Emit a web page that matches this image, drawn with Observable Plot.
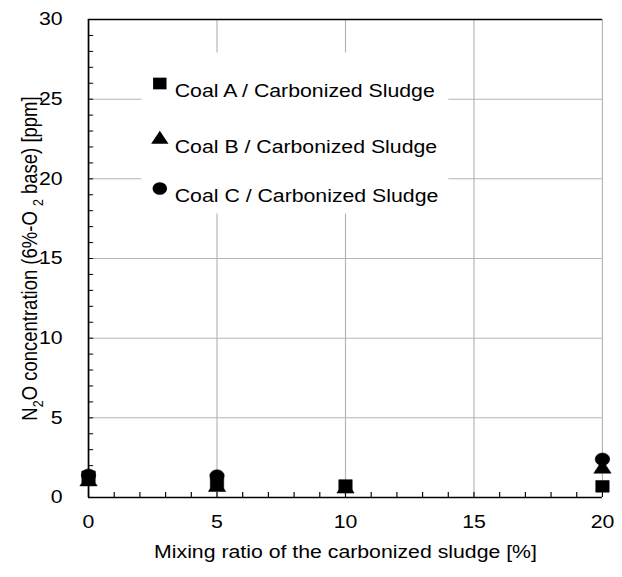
<!DOCTYPE html>
<html><head><meta charset="utf-8">
<script src="https://cdn.jsdelivr.net/npm/d3@7"></script>
<script src="https://cdn.jsdelivr.net/npm/@observablehq/plot@0.6"></script>
<style>
body{margin:0;background:#fff}
svg{font-family: Arial, "Liberation Sans", sans-serif;}
</style>
</head><body><div id="chart"></div>
<script>
// ---- data ----
const seriesNames = ["Coal A / Carbonized Sludge", "Coal B / Carbonized Sludge", "Coal C / Carbonized Sludge"];
const seriesSymbols = ["square", "triangle", "circle"];
const coalA_x = [0, 5, 10, 20];
const coalA_y = [1.3, 0.85, 0.75, 0.7];
const coalB_x = [0, 5, 10, 20];
const coalB_y = [1.0, 0.65, 0.55, 1.8];
const coalC_x = [0, 5, 20];
const coalC_y = [1.4, 1.35, 2.4];
const xTicks = [0, 5, 10, 15, 20];
const yTicks = [0, 5, 10, 15, 20, 25, 30];
const xMinor = d3.range(0, 21, 1);
const yMinor = d3.range(0, 31, 1);
const xLabel = "Mixing ratio of the carbonized sludge [%]";
const yLabel = "N2O concentration (6%-O 2 base) [ppm]";

// the original picture is stretched horizontally; draw at a narrower width and stretch
const OUT_W = 622, OUT_H = 577, SX = 1.15;
const W = Math.round(OUT_W / SX);

const series = [
  {name: seriesNames[0], symbol: seriesSymbols[0], r: 6.6, pts: coalA_x.map((x, i) => ({x, y: coalA_y[i]}))},
  {name: seriesNames[1], symbol: seriesSymbols[1], r: 5.6, pts: coalB_x.map((x, i) => ({x, y: coalB_y[i]}))},
  {name: seriesNames[2], symbol: seriesSymbols[2], r: 6.3, pts: coalC_x.map((x, i) => ({x, y: coalC_y[i]}))}
];
const legendRowsDy = [64, 120, 169];

const gridColor = "#b4b4b4";
const FS = 18.5;
const plot = Plot.plot({
  width: W, height: OUT_H,
  marginLeft: 76.5, marginRight: 17.5, marginTop: 19, marginBottom: 80,
  style: {fontFamily: 'Arial, "Liberation Sans", sans-serif', fontSize: FS + "px", color: "#000", background: "#fff"},
  x: {domain: [0, 20]},
  y: {domain: [0, 30]},
  marks: [
    Plot.gridX(xTicks.filter(d => d > 0), {stroke: gridColor, strokeOpacity: 1, strokeWidth: 1}),
    Plot.gridY(yTicks.filter(d => d > 0), {stroke: gridColor, strokeOpacity: 1, strokeWidth: 1}),
    Plot.frame({fill: "white", stroke: null, insetLeft: 46, insetTop: 33, insetRight: 134, insetBottom: 284}),
    Plot.ruleY([30], {stroke: "black", strokeWidth: 1.6}),
    Plot.ruleY([0], {stroke: "black", strokeWidth: 1.6}),
    Plot.ruleX([0], {stroke: "black", strokeWidth: 1.5}),
    Plot.axisX(xMinor, {tickSize: -5, tickFormat: () => "", label: null, stroke: "black"}),
    Plot.axisY(yMinor, {tickSize: -4.5, tickFormat: () => "", label: null, stroke: "black"}),
    Plot.axisX(xTicks, {tickSize: 0, tickPadding: 17, label: xLabel, labelAnchor: "center", labelOffset: 60, labelArrow: "none"}),
    Plot.axisY(yTicks, {tickSize: 0, tickPadding: 22.6, label: yLabel, labelAnchor: "center", labelOffset: 58, labelArrow: "none"}),
    ...series.map(s => Plot.dot(s.pts, {x: "x", y: "y", symbol: () => s.symbol, r: s.r, fill: "black", stroke: "black", strokeWidth: 0.5})),
    ...series.map((s, i) => Plot.dot([s], {frameAnchor: "top-left", dx: 62, dy: legendRowsDy[i], symbol: () => s.symbol, r: s.r, fill: "black"})),
    ...series.map((s, i) => Plot.text([s], {frameAnchor: "top-left", dx: 75, dy: legendRowsDy[i], text: d => d.name, textAnchor: "start", fontSize: FS, fill: "black"}))
  ]
});
plot.setAttribute("width", OUT_W);
plot.setAttribute("height", OUT_H);
plot.setAttribute("viewBox", `0 0 ${W} ${OUT_H}`);
plot.setAttribute("preserveAspectRatio", "none");
plot.style.width = OUT_W + "px";
plot.style.height = OUT_H + "px";
plot.style.maxWidth = "none";
document.getElementById("chart").appendChild(plot);

// subscripts in the y label
const yl = d3.select(plot).select('g[aria-label="y-axis label"] text');
if (!yl.empty()) {
  yl.text(null);
  const parts = [["N", false], ["2", true], ["O concentration (6%-O ", false], ["2", true], [" base) [ppm]", false]];
  parts.forEach(([t, sub], i) => {
    yl.append("tspan").text(t)
      .attr("font-size", sub ? 12.5 : null)
      .attr("dy", i === 0 ? null : (sub ? 5 : -5));
  });
}
</script>
</body></html>
